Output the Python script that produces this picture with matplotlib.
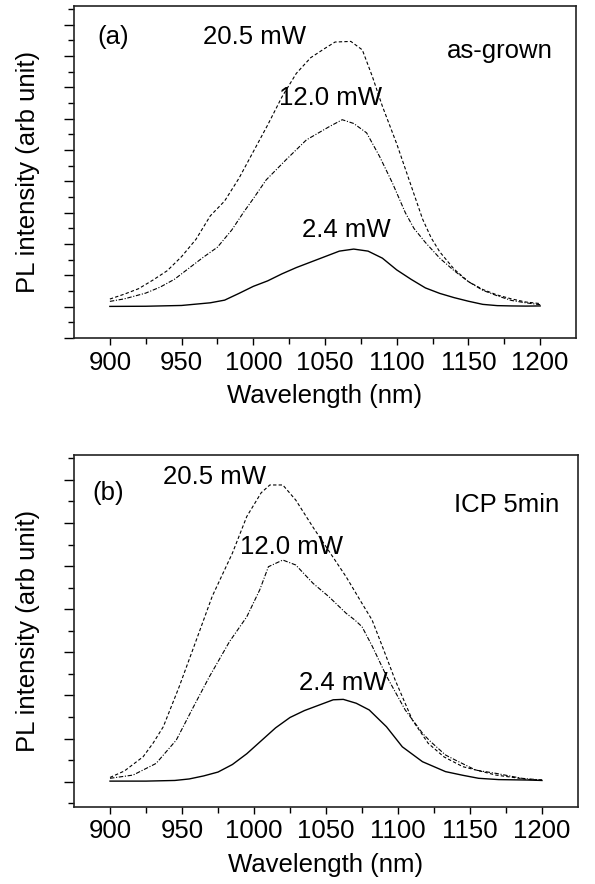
import matplotlib
matplotlib.use("Agg")
import matplotlib.pyplot as plt
import numpy as np

plt.rcParams['font.family'] = ['Liberation Sans', 'DejaVu Sans']
FS = 18.5

# ---- (a) as-grown ----
a_x_24 = [900, 925, 950, 970, 980, 990, 1000, 1010, 1020, 1030, 1040, 1050, 1060, 1070,
          1080, 1090, 1100, 1110, 1120, 1130, 1140, 1150, 1160, 1170, 1180, 1190, 1200]
a_y_24 = [2.02, 2.03, 2.08, 2.25, 2.42, 2.85, 3.3, 3.65, 4.1, 4.5, 4.85, 5.2, 5.55, 5.68,
          5.55, 5.1, 4.35, 3.75, 3.2, 2.85, 2.58, 2.35, 2.15, 2.07, 2.05, 2.04, 2.05]

a_x_205 = [900, 910, 920, 930, 940, 950, 960, 970, 980, 990, 1000, 1010, 1020, 1030, 1040,
           1050, 1057, 1068, 1076, 1083, 1090, 1100, 1106, 1112, 1118, 1124, 1130, 1140, 1150,
           1160, 1170, 1180, 1190, 1200]
a_y_205 = [2.49, 2.8, 3.15, 3.7, 4.3, 5.2, 6.3, 7.8, 8.75, 10.2, 11.9, 13.6, 15.4, 16.9, 17.9,
           18.5, 18.9, 18.94, 18.4, 16.7, 14.8, 12.4, 10.8, 9.2, 7.6, 6.4, 5.5, 4.4, 3.6,
           3.1, 2.75, 2.5, 2.3, 2.2]

a_x_120 = [900, 910, 925, 935, 945, 955, 965, 975, 985, 993, 1000, 1009, 1023, 1037, 1053,
           1062, 1070, 1079, 1088, 1097, 1106, 1112, 1120, 1130, 1140, 1150, 1160, 1170,
           1180, 1190, 1200]
a_y_120 = [2.34, 2.5, 2.87, 3.25, 3.75, 4.45, 5.15, 5.8, 6.9, 8.0, 8.9, 10.1, 11.4, 12.65, 13.5,
           13.94, 13.7, 13.1, 11.6, 9.9, 8.0, 7.0, 6.1, 5.1, 4.3, 3.6, 3.05, 2.7,
           2.4, 2.25, 2.13]

# ---- (b) ICP 5min ----
b_x_24 = [900, 925, 945, 955, 965, 975, 985, 995, 1005, 1015, 1025, 1035, 1045, 1055, 1062,
          1071, 1080, 1092, 1103, 1117, 1133, 1145, 1156, 1170, 1190, 1200]
b_y_24 = [1.03, 1.03, 1.06, 1.13, 1.27, 1.45, 1.8, 2.3, 2.9, 3.5, 3.98, 4.3, 4.55, 4.8, 4.82,
          4.64, 4.33, 3.55, 2.62, 1.93, 1.47, 1.3, 1.16, 1.1, 1.08, 1.06]

b_x_205 = [900, 910, 923, 930, 937, 948, 959, 971, 985, 995, 1005, 1011, 1020, 1029, 1041,
           1055, 1064, 1075, 1082, 1089, 1098, 1110, 1121, 1132, 1145, 1168, 1190, 1200]
b_y_205 = [1.2, 1.5, 2.16, 2.8, 3.55, 5.4, 7.4, 9.6, 11.6, 13.3, 14.4, 14.76, 14.76, 14.06, 12.8,
           11.4, 10.5, 9.27, 8.5, 7.3, 5.72, 3.86, 2.78, 2.15, 1.7, 1.31, 1.11, 1.08]

b_x_120 = [900, 916, 932, 946, 958, 969, 983, 995, 1004, 1010, 1020, 1029, 1041, 1052, 1064,
           1070, 1075, 1082, 1092, 1105, 1117, 1122, 1133, 1140, 1154, 1168, 1186, 1200]
b_y_120 = [1.16, 1.31, 1.85, 2.93, 4.48, 5.87, 7.5, 8.65, 9.9, 10.97, 11.28, 11.05, 10.2, 9.58, 8.81,
           8.5, 8.19, 7.3, 5.9, 4.33, 3.25, 2.9, 2.24, 2.0, 1.54, 1.39, 1.16, 1.08]

# (text, x, y) labels in data coords
a_labels = [("(a)", 891, 19.24), ("20.5 mW", 965, 19.24), ("12.0 mW", 1018, 15.3),
            ("2.4 mW", 1034, 6.9), ("as-grown", 1135, 18.3)]
b_labels = [("(b)", 888, 14.37), ("20.5 mW", 937, 15.13), ("12.0 mW", 990, 11.88),
            ("2.4 mW", 1031, 5.58), ("ICP 5min", 1139, 13.83)]

fig = plt.figure(figsize=(5.95, 8.84), dpi=100)
ax1 = fig.add_axes([0.1244, 0.6176, 0.8437, 0.3756])
ax2 = fig.add_axes([0.1244, 0.0876, 0.847, 0.3977])


def style(ax, ylim, major, minor):
    ax.set_xlim(875, 1225)
    ax.set_ylim(*ylim)
    ax.set_xticks(np.arange(900, 1201, 50))
    ax.set_xticks(np.arange(900, 1201, 25), minor=True)
    ax.set_yticks(major)
    ax.set_yticks(minor, minor=True)
    ax.set_yticklabels([])
    ax.tick_params(axis='x', which='major', direction='out', length=5, width=1,
                   labelsize=FS, pad=4, top=False)
    ax.tick_params(axis='x', which='minor', direction='out', length=4, width=1, top=False)
    ax.tick_params(axis='y', which='major', direction='out', length=7, width=1, right=False)
    ax.tick_params(axis='y', which='minor', direction='out', length=4, width=1, right=False)
    for s in ax.spines.values():
        s.set_linewidth(1.2)
        s.set_color('#222222')
    ax.set_xlabel("Wavelength (nm)", fontsize=FS, labelpad=7)
    ax.set_ylabel("PL intensity (arb unit)", fontsize=FS)
    ax.yaxis.set_label_coords(-0.068, 0.5)


def curves(ax, x24, y24, x205, y205, x120, y120):
    ax.plot(x24, y24, color='black', lw=1.0, ls='-')
    ax.plot(x205, y205, color='black', lw=0.8, dashes=(3, 2))
    ax.plot(x120, y120, color='black', lw=0.8, dashes=(4, 1.5, 1, 1.5))


curves(ax1, a_x_24, a_y_24, a_x_205, a_y_205, a_x_120, a_y_120)
style(ax1, (0, 21.2), np.arange(0, 22, 2), np.arange(1, 22, 2))
for t, x, y in a_labels:
    ax1.text(x, y, t, fontsize=FS, ha='left', va='center')

curves(ax2, b_x_24, b_y_24, b_x_205, b_y_205, b_x_120, b_y_120)
style(ax2, (-0.15, 16.15), np.arange(1, 17, 2), np.arange(0, 17, 2))
for t, x, y in b_labels:
    ax2.text(x, y, t, fontsize=FS, ha='left', va='center')

fig.savefig("out.png", dpi=100)
